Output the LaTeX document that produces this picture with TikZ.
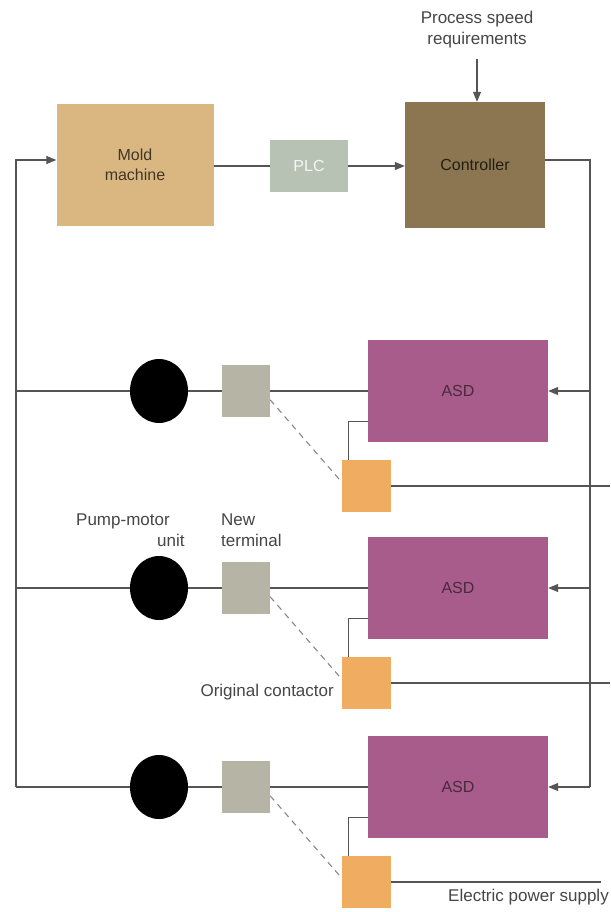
\documentclass[tikz,border=0pt]{standalone}
\usepackage{fontspec}
\setmainfont{Liberation Sans}
\usetikzlibrary{arrows.meta,shapes.geometric,calc}
\definecolor{moldc}{RGB}{218,182,128}
\definecolor{plcc}{RGB}{184,194,180}
\definecolor{ctrlc}{RGB}{140,118,82}
\definecolor{asdc}{RGB}{168,92,140}
\definecolor{termc}{RGB}{182,180,164}
\definecolor{contc}{RGB}{240,172,96}
\definecolor{wirec}{RGB}{85,85,85}
\definecolor{txtc}{RGB}{70,70,70}
\tikzset{
  x=1pt, y=-1pt,
  every node/.style={font=\fontsize{17}{21}\selectfont, text=txtc},
  boxlabel/.style={font=\fontsize{16}{20}\selectfont},
  wire/.style={draw=wirec, line width=1.1pt},
  sig/.style={wire, -{Triangle[length=10pt,width=8pt]}},
  termbox/.style={fill=termc, minimum width=48pt, minimum height=52pt, inner sep=0pt},
  contbox/.style={fill=contc, minimum width=49pt, minimum height=52pt, inner sep=0pt},
  asdbox/.style={fill=asdc, minimum width=180pt, minimum height=102pt, inner sep=0pt, boxlabel, text=asdc!45!black},
  motor/.style={ellipse, fill=black, minimum width=58pt, minimum height=64pt, inner sep=0pt},
  lbl/.style={align=center, inner sep=0pt}
}
\begin{document}
\begin{tikzpicture}
\useasboundingbox (0,0) rectangle (610,912);
\fill[white] (0,0) rectangle (610,912);

% top row
\node[fill=moldc, minimum width=157pt, minimum height=122pt, inner sep=0pt, align=center, boxlabel, text=moldc!30!black] (mold) at (135,165) {Mold\\machine};
\node[fill=plcc, minimum width=78pt, minimum height=52pt, inner sep=0pt, boxlabel, text=white!92!gray] (plc) at (309,166) {PLC};
\node[fill=ctrlc, minimum width=140pt, minimum height=126pt, inner sep=0pt, boxlabel, text=ctrlc!25!black] (ctrl) at (475,165) {Controller};
\node[lbl] (req) at (477,30) {Process speed\\requirements};

\draw[sig] (req.south) ++(0,10) coordinate (reqtop) -- (reqtop |- ctrl.north);
\draw[wire] (mold.east |- plc.west) -- (plc.west);
\draw[sig] (plc.east) -- (ctrl.west |- plc.east);

% return paths
\coordinate (cr) at (590,160);
\coordinate (lt) at (16,160);
\coordinate (edge) at (610,0);

\foreach \i/\y in {1/391, 2/588, 3/787}{
  \node[motor] (m\i) at (159,\y) {};
  \node[termbox] (t\i) at (246,\y) {};
  \node[asdbox] (a\i) at (458,\y) {ASD};
  \node[contbox] (c\i) at (366,\y+95) {};
  \draw[wire] (m\i.east) -- (t\i.west);
  \draw[wire] (t\i.east) -- (a\i.west);
  \draw[wire, dash pattern=on 6pt off 5pt, draw=wirec!70] (t\i.-20) -- (c\i.170);
  \draw[wire] (c\i.north west) ++(7,0) coordinate (cu\i) -- ($(cu\i |- a\i.south)+(0,-21)$) coordinate (cc\i) -- (cc\i -| a\i.west);
}
\draw[wire] (c1.east) -- (c1.east -| edge);
\draw[wire] (c2.east) -- (c2.east -| edge);
\draw[wire] (c3.east) -- ($(c3.east -| edge)+(-9,0)$);

% controller feedback to the drives
\draw[wire] (ctrl.east |- cr) -- (cr) -- (590,787) coordinate (cb);
\draw[sig] (590,391) coordinate (r1) -- (r1 -| a1.east);
\draw[sig] (590,588) coordinate (r2) -- (r2 -| a2.east);
\draw[sig] (cb) -- (cb -| a3.east);

% motors back to the mold machine
\draw[sig] (16,787) coordinate (lb) -- (lt) -- (lt -| mold.west);
\draw[wire] (lb) -- (m3.west);
\draw[wire] (16,391) coordinate (l1) -- (m1.west);
\draw[wire] (16,588) coordinate (l2) -- (m2.west);

% labels
\node[lbl, align=left, anchor=west] (pm) at (76,530) {Pump-motor\\\hspace*{81pt}unit};
\node[lbl, align=left, anchor=west] (nt) at (221,530) {New\\terminal};
\node[lbl, anchor=east] (oc) at (334,692) {Original contactor};
\node[lbl, anchor=east] (eps) at (609,897) {Electric power supply};
\end{tikzpicture}
\end{document}
